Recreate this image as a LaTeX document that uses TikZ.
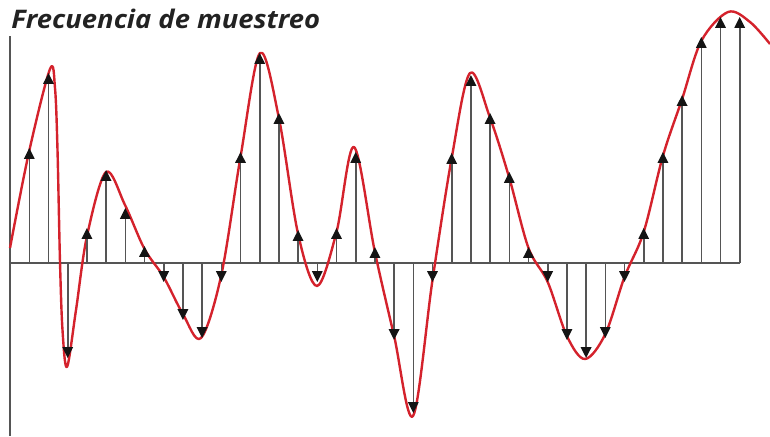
\documentclass[tikz,border=0pt]{standalone}
\usepackage{fontspec}
\newfontfamily\titlefont[FakeStretch=1.07]{Open Sans}
\usetikzlibrary{arrows.meta}
\definecolor{ink}{RGB}{20,20,20}
\definecolor{axisgray}{RGB}{85,85,85}
\definecolor{wave}{RGB}{212,34,44}
\definecolor{titleink}{RGB}{34,34,34}

\begin{document}
\begin{tikzpicture}[
  x=0.5pt, y=-0.5pt,
  axis/.style={draw=axisgray, line width=0.95pt},
  stem/.style={draw=axisgray, line width=0.8pt, -{Triangle[width=5.2pt, length=5.4pt, ink]}},
  signal/.style={draw=wave, line width=1.2pt, line join=round},
  ttl/.style={font=\titlefont\bfseries\itshape\fontsize{12.8}{15}\selectfont, text=titleink, inner sep=0pt}
]
\useasboundingbox (0,0) rectangle (770,436);

% ---------------- AXES ----------------
\coordinate (ytop) at (10,36);
\coordinate (ybot) at (10,436);
\coordinate (origin) at (10,263);
\coordinate (xend) at (740,263);
\draw[axis] (ytop) -- (ybot);
\draw[axis] (origin) -- (xend);

% ---------------- TITLE ----------------
\node (title) at (11,28) [ttl, anchor=base west] {Frecuencia de muestreo};

% ---------------- CONTINUOUS SIGNAL ----------------
\draw[signal] plot[smooth, tension=0.55] coordinates {
  (10,248) (29,152) (50,69) (55,88) (57.5,150) (60,262) (62.5,330) (67,367)
  (76,310) (87,236) (106,172) (125,205) (144.5,249) (163.7,277) (182.9,314) (201,338)
  (221.3,275) (240.5,157) (260,53) (278.9,118) (298.1,234) (317,286) (336.5,232)
  (354,147) (374.9,252) (394.1,336) (413,416) (432.5,280) (451.7,158) (470,73)
  (490.1,118) (509.3,178) (528.5,248) (547.7,282) (566.9,336) (585,359) (605.3,334)
  (624.5,277) (643.7,232) (662.9,156) (682.1,99) (701.3,41) (728,12) (750,22) (770,44)};

% ---------------- SAMPLES ----------------
\foreach \v [count=\k from 0] in {148,73,358,228,170,208,246,282,320,338,282,152,53,113,230,282,228,152,247,340,413,282,153,75,113,172,247,282,340,358,338,282,228,152,95,37,17,17}{
  \coordinate (base\k) at ({29.3+19.2*\k},263);
  \coordinate (tip\k) at ({29.3+19.2*\k},\v);
  \draw[stem] (base\k) -- (tip\k);
}

\end{tikzpicture}
\end{document}
